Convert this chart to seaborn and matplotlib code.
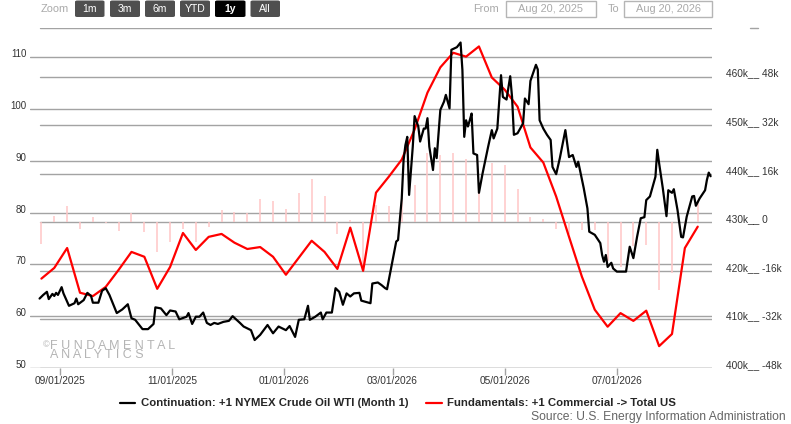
import pandas as pd
import matplotlib.pyplot as plt
import seaborn as sns
from matplotlib.lines import Line2D
from matplotlib.patches import FancyBboxPatch
from matplotlib.transforms import blended_transform_factory

# --- data ---
start = pd.Timestamp('2025-08-20')

# WTI front month, day offset from Aug 20 2025 and price ($)
oil_day = [1, 3, 5, 6, 8, 9, 10, 11, 13, 14,
           17, 20, 21, 22, 25, 27, 29, 30, 33, 35,
           37, 39, 43, 46, 49, 51, 53, 57, 60, 63,
           64, 67, 70, 72, 75, 77, 81, 82, 84, 86,
           88, 90, 92, 94, 96, 98, 101, 104, 106, 110,
           112, 116, 118, 121, 125, 128, 131, 135, 137, 140,
           142, 145, 147, 148, 151, 154, 155, 157, 160, 162,
           164, 166, 168, 170, 172, 175, 176, 178, 181, 182,
           185, 187, 189, 190, 192, 193, 195, 196, 198, 199,
           200, 201, 202, 204, 205, 207, 208, 210, 211, 212,
           213, 215, 216, 217, 219, 221, 222, 224, 225, 228,
           230, 231, 232, 233, 234, 235, 236, 237, 239, 240,
           242, 245, 247, 248, 250, 252, 253, 255, 257, 258,
           259, 261, 264, 265, 267, 268, 271, 272, 273, 275,
           277, 279, 280, 282, 284, 287, 289, 291, 293, 294,
           297, 299, 300, 303, 306, 307, 308, 309, 310, 312,
           313, 315, 320, 322, 324, 326, 328, 330, 331, 333,
           336, 337, 338, 340, 342, 343, 345, 346, 348, 350,
           351, 353, 356, 357, 358, 360, 363, 364, 365, 366]
oil_price = [63.4, 64.1, 64.7, 63.3, 64.3, 63.9, 64.5, 64.1, 65.6, 64.4,
             62.0, 62.5, 63.4, 62.3, 63.1, 64.5, 63.9, 62.6, 62.6, 64.9,
             65.4, 64.1, 60.6, 61.3, 62.3, 59.6, 59.3, 57.5, 57.5, 58.5,
             61.7, 61.5, 60.2, 61.1, 60.9, 59.4, 59.9, 60.6, 58.5, 59.9,
             59.9, 60.7, 58.7, 58.3, 58.7, 58.5, 58.9, 59.1, 60.0, 58.7,
             58.0, 57.3, 55.4, 56.4, 58.3, 56.7, 58.0, 57.3, 58.1, 56.0,
             59.3, 59.4, 62.0, 59.3, 59.9, 60.7, 59.4, 60.7, 60.7, 65.4,
             64.7, 62.2, 64.4, 63.8, 64.4, 64.5, 63.0, 62.8, 62.5, 66.3,
             66.5, 66.0, 65.4, 65.2, 68.9, 70.8, 74.4, 74.7, 82.7, 90.1,
             93.0, 94.6, 83.4, 92.7, 98.6, 96.6, 93.7, 96.2, 96.2, 98.2,
             92.7, 88.2, 92.4, 90.5, 99.8, 101.4, 102.7, 100.1, 111.4, 111.9,
             112.8, 107.5, 94.6, 97.8, 96.6, 97.8, 99.1, 91.4, 91.1, 83.8,
             87.6, 92.7, 95.9, 94.3, 96.2, 106.5, 102.3, 101.8, 106.3, 102.3,
             95.0, 95.3, 97.2, 102.0, 100.9, 105.4, 108.5, 107.6, 97.8, 96.2,
             95.0, 94.0, 88.8, 87.4, 90.5, 95.9, 90.7, 91.1, 88.8, 89.8,
             84.7, 80.8, 76.3, 75.7, 74.1, 71.8, 70.5, 71.8, 69.5, 70.3,
             69.2, 68.6, 68.6, 73.4, 71.2, 75.3, 78.9, 79.1, 82.4, 83.1,
             86.9, 92.1, 89.5, 84.7, 79.3, 84.3, 83.8, 84.5, 80.5, 75.3,
             75.2, 79.2, 83.1, 83.2, 81.3, 82.7, 84.3, 86.3, 87.7, 87.0]

# weekly commercial stocks (k bbl) and weekly bar values (k bbl)
stock_first = '2025-08-22'
stock_k = [418.4, 420.6, 424.7, 415.5, 414.8, 416.7, 420.2, 423.9, 422.9, 416.3,
           420.8, 427.8, 424.3, 427.0, 427.6, 425.8, 424.5, 424.9, 422.9, 419.2,
           422.7, 426.2, 423.9, 420.4, 428.9, 420.0, 436.1, 439.4, 442.9, 449.1,
           456.7, 461.9, 464.9, 464.1, 466.2, 459.8, 457.3, 453.8, 445.4, 442.3,
           435.3, 427.0, 418.8, 412.0, 408.5, 411.3, 409.7, 411.8, 404.5, 407.0,
           424.7, 429.1]
change_k = [-7.2, 2.2, 5.4, -2.3, 1.7, -0.3, -2.8, 3.0, -3.3, -9.7,
            -6.6, -2.3, -6.4, -1.7, 4.1, 3.4, 3.0, 7.8, 7.0, 4.3,
            9.8, 14.3, 8.5, -3.9, 0.9, -15.5, 5.8, 5.5, 8.0, 12.4,
            22.7, 22.0, 22.7, 21.0, 10.0, 19.6, 19.0, 11.0, 1.8, 1.1,
            -2.3, -3.7, -2.6, -2.4, -12.9, -14.7, -7.9, -7.4, -22.2, -16.7,
            -2.2, 7.5]

x_ticks = ['2025-09-01', '2025-11-01', '2026-01-01', '2026-03-01', '2026-05-01', '2026-07-01']
left_ticks = [50, 60, 70, 80, 90, 100, 110]
right_ticks = [400, 410, 420, 430, 440, 450, 460]
change_ticks = ['-48k', '-32k', '-16k', '0', '16k', '32k', '48k']

oil_dates = start + pd.to_timedelta(oil_day, unit='D')
stock_dates = pd.date_range(stock_first, periods=len(stock_k), freq='7D')

# --- figure ---
sns.set_theme(style='white')
plt.rcParams['font.family'] = ['Liberation Sans', 'DejaVu Sans']

W, H = 791, 424
def fx(x):
    return x / W
def fy(y):
    return 1 - y / H

fig = plt.figure(figsize=(W / 100, H / 100), dpi=100)
fig.patch.set_facecolor('white')
rect = [fx(30), fy(368), (711.7 - 30) / W, (368 - 27.5) / H]
ax = fig.add_axes(rect)
ax_red = ax.twinx()
ax_bar = ax.twinx()
ax_bar.set_zorder(1)
ax_red.set_zorder(2)
ax.set_zorder(3)
for a in (ax, ax_red):
    a.patch.set_visible(False)

ax.set_xlim(start - pd.Timedelta(days=4.2), start + pd.Timedelta(days=366.6))
ax.set_ylim(50, 115.7)
ax_red.set_ylim(400, 470.1)
ax_bar.set_ylim(-48, 64.16)

grid_c = '#a3a3a3'
left_tr = blended_transform_factory(ax_bar.transAxes, ax.transData)
right_tr = blended_transform_factory(ax_bar.transAxes, ax_red.transData)
for v in left_ticks:
    ax_bar.add_artist(Line2D([0, 1], [v, v], transform=left_tr, color=grid_c, lw=1.0))
for v in right_ticks + [470]:
    ax_bar.add_artist(Line2D([10 / 681.7, 1], [v, v], transform=right_tr, color=grid_c, lw=1.0))

ax_bar.vlines(stock_dates, 0, change_k, color='#ffc6c6', lw=1.1)
sns.lineplot(x=stock_dates, y=stock_k, ax=ax_red, color='#ff0000', lw=1.6)
sns.lineplot(x=oil_dates, y=oil_price, ax=ax, color='black', lw=1.6)

for a in (ax, ax_red, ax_bar):
    a.set_xlabel('')
    a.set_ylabel('')
    for s in a.spines.values():
        s.set_visible(False)

ax.set_xticks(pd.to_datetime(x_ticks))
ax.set_xticklabels(pd.to_datetime(x_ticks).strftime('%m/%d/%Y'), fontsize=7.3, color='#333333')
ax.tick_params(axis='x', length=5, width=1, color=grid_c, pad=1, bottom=True)
ax.set_yticks(left_ticks)
ax.set_yticklabels([str(v) for v in left_ticks], fontsize=7, color='#333333', va='baseline')
ax.tick_params(axis='y', length=0, pad=2.5)

ax_red.set_yticks(right_ticks)
ax_red.set_yticklabels([f'{v}k__ {c}' for v, c in zip(right_ticks, change_ticks)],
                       fontsize=7.3, color='#333333', va='baseline')
ax_red.tick_params(axis='y', length=0, pad=10)
ax_bar.set_yticks([])
ax_bar.tick_params(axis='x', length=0, labelbottom=False)

fig.add_artist(Line2D([fx(750), fx(758)], [fy(27.5), fy(27.5)], color=grid_c, lw=1.0))

# --- range selector bar ---
fig.text(fx(40.5), fy(8.5), 'Zoom', fontsize=7.9, color='#aaaaaa', va='center')
buttons = [('1m', 75, 104.5), ('3m', 110, 140), ('6m', 145, 175),
           ('YTD', 180, 210), ('1y', 215, 245.5), ('All', 250.5, 280)]
for lab, x0, x1 in buttons:
    sel = lab == '1y'
    fig.add_artist(FancyBboxPatch((fx(x0), fy(17)), (x1 - x0) / W, 16.5 / H,
                                  boxstyle='round,pad=0,rounding_size=0.003',
                                  transform=fig.transFigure,
                                  fc='#000000' if sel else '#4f4f4f', ec='none'))
    fig.text(fx((x0 + x1) / 2), fy(8.8), lab, fontsize=7.5, color='white',
             ha='center', va='center', fontweight='bold' if sel else 'normal')

fig.text(fx(473.5), fy(8.5), 'From', fontsize=7.9, color='#aaaaaa', va='center')
fig.text(fx(608), fy(8.5), 'To', fontsize=7.9, color='#aaaaaa', va='center')
for lab, x0, x1 in [('Aug 20, 2025', 506, 596), ('Aug 20, 2026', 624, 712)]:
    fig.add_artist(FancyBboxPatch((fx(x0), fy(17)), (x1 - x0) / W, 16 / H,
                                  boxstyle='square,pad=0', transform=fig.transFigure,
                                  fc='white', ec='#b5b5b5', lw=1.0))
    fig.text(fx((x0 + x1) / 2), fy(8.8), lab, fontsize=7.9, color='#aaaaaa',
             ha='center', va='center')

# --- watermark ---
wm = '#b4b4b4'
fig.text(fx(42.5), fy(347), '\u00a9', fontsize=6.5, color=wm, va='baseline')
fig.text(fx(49.5), fy(358), ' '.join('FUNDAMENTAL') + '\n' + ' '.join('ANALYTICS'),
         fontsize=9, color=wm, va='baseline', ha='left', linespacing=0.72)

# --- legend and source ---
handles = [Line2D([], [], color='black', lw=1.6), Line2D([], [], color='#ff0000', lw=1.6)]
labels = ['Continuation: +1 NYMEX Crude Oil WTI (Month 1)', 'Fundamentals: +1 Commercial -> Total US']
fig.legend(handles, labels, loc='center', bbox_to_anchor=(fx(398), fy(403.5)), ncol=2,
           frameon=False, handlelength=1.4, handletextpad=0.45, columnspacing=1.6,
           prop={'weight': 'bold', 'size': 8.2, 'family': ['Liberation Sans', 'DejaVu Sans']})
fig.text(fx(786), fy(417), 'Source: U.S. Energy Information Administration', fontsize=8.7,
         color='#666666', ha='right', va='center')

fig.savefig('out.png', dpi=100, facecolor='white')
